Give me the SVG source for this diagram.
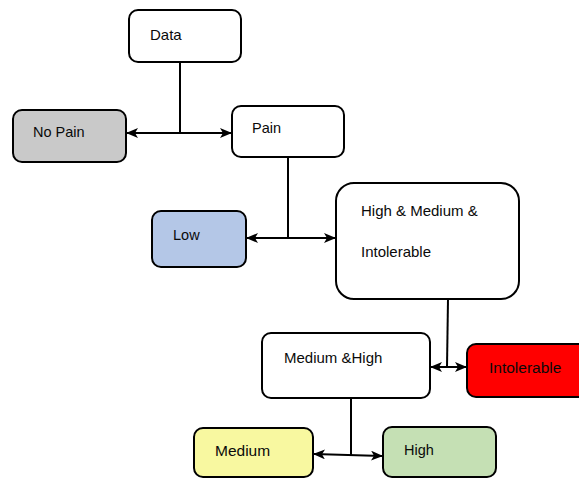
<svg xmlns="http://www.w3.org/2000/svg" width="579" height="479" viewBox="0 0 579 479">
<style>
.box{stroke:#000;stroke-width:2}
.t{font-family:"Liberation Sans","Noto Sans",sans-serif;fill:#0a0a0a}
.c{fill:none;stroke:#000;stroke-width:2}
</style>
<defs>
<marker id="ah" viewBox="0 0 12 10" refX="11" refY="5" markerWidth="12" markerHeight="10" markerUnits="userSpaceOnUse" orient="auto-start-reverse">
<path d="M0,0 L12,5 L0,10 L3,5 z" fill="#000"/>
</marker>
</defs>
<rect width="579" height="479" fill="#fff"/>
<g id="connectors">
<path class="c" d="M180,62 V133"/>
<path class="c" d="M127,133 H231" marker-start="url(#ah)" marker-end="url(#ah)"/>
<path class="c" d="M288,157 V238"/>
<path class="c" d="M247,238 H335" marker-start="url(#ah)" marker-end="url(#ah)"/>
<path class="c" d="M448,299 L447,367"/>
<path class="c" d="M431,367 H466" marker-start="url(#ah)" marker-end="url(#ah)"/>
<path class="c" d="M351,398 V455"/>
<path class="c" d="M314,454 L382,456" marker-start="url(#ah)" marker-end="url(#ah)"/>
</g>
<g id="data"><rect class="box" x="129" y="10" width="112" height="52" rx="9" fill="#fff"/><text class="t" x="150" y="40" font-size="15">Data</text></g>
<g id="nopain"><rect class="box" x="13" y="110" width="113" height="52" rx="9" fill="#c9c9c9"/><text class="t" x="33" y="137" font-size="14.5">No Pain</text></g>
<g id="pain"><rect class="box" x="232" y="106" width="112" height="51" rx="9" fill="#fff"/><text class="t" x="252" y="133" font-size="14.5">Pain</text></g>
<g id="low"><rect class="box" x="152" y="211" width="94" height="56" rx="9" fill="#b4c7e7"/><text class="t" x="173" y="240" font-size="14.5">Low</text></g>
<g id="hmi"><rect class="box" x="336" y="183" width="183" height="116" rx="18" fill="#fff"/><text class="t" x="361" y="216" font-size="15">High &amp; Medium &amp;</text><text class="t" x="361" y="257" font-size="15">Intolerable</text></g>
<g id="mediumhigh"><rect class="box" x="262" y="333" width="168" height="65" rx="9" fill="#fff"/><text class="t" x="284" y="363" font-size="15">Medium &amp;High</text></g>
<g id="intolerable"><rect class="box" x="467" y="344" width="125" height="53" rx="9" fill="#ff0000"/><text class="t" x="489" y="373" font-size="15.5">Intolerable</text></g>
<g id="medium"><rect class="box" x="194" y="428" width="119" height="49" rx="9" fill="#f8f8a0"/><text class="t" x="215" y="456" font-size="15.5">Medium</text></g>
<g id="high"><rect class="box" x="383" y="427" width="113" height="50" rx="9" fill="#c5e0b4"/><text class="t" x="404" y="455" font-size="14.5">High</text></g>
</svg>
